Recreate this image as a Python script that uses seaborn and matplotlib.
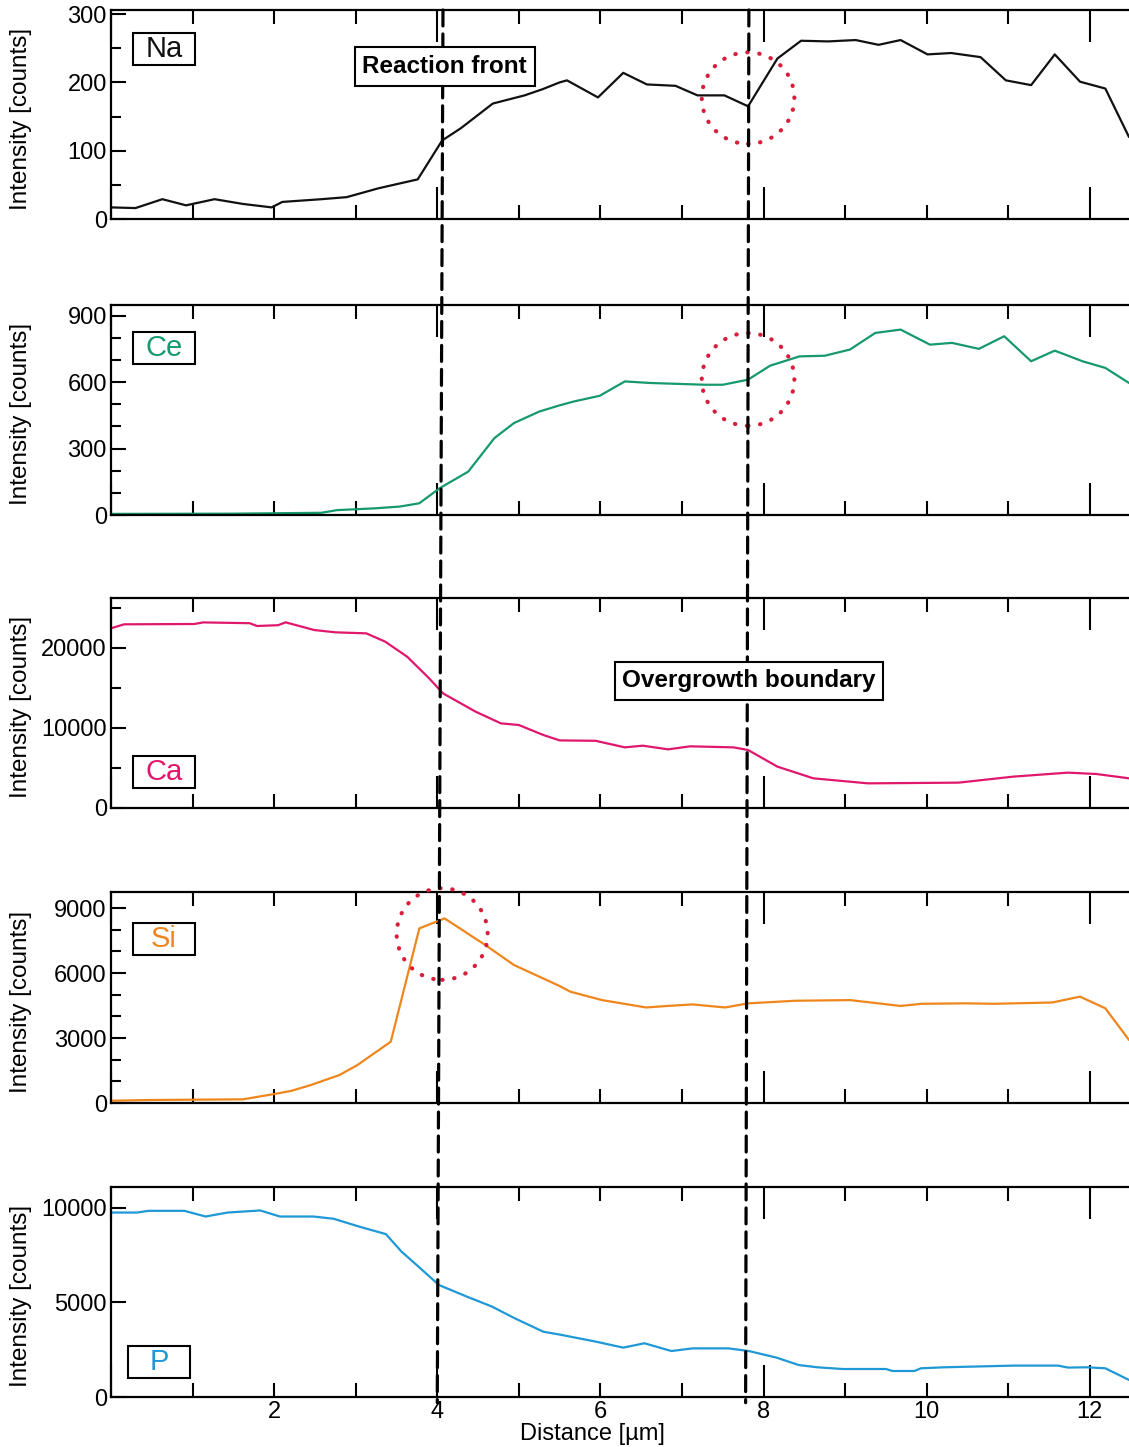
import numpy as np
import pandas as pd
import matplotlib
matplotlib.use("Agg")
import matplotlib.pyplot as plt
import seaborn as sns
from matplotlib.patches import Ellipse, Rectangle, ConnectionPatch
from matplotlib.ticker import FixedLocator, FuncFormatter, NullFormatter

# ---------------- data ----------------
na_x = [0.0, 0.30, 0.63, 0.92, 1.27, 1.62, 1.97, 2.10, 2.58, 2.89, 3.28, 3.76, 4.06, 4.29, 4.68, 5.07,
        5.29, 5.50, 5.59, 5.97, 6.28, 6.57, 6.92, 7.19, 7.52, 7.81, 8.17, 8.46, 8.79, 9.13, 9.41, 9.68,
        10.01, 10.30, 10.66, 10.97, 11.28, 11.57, 11.88, 12.19, 12.48]
na_y = [17, 16, 29, 20, 29, 22, 17, 25, 29, 32, 45, 58, 115, 133, 169, 181,
        190, 200, 203, 178, 214, 197, 195, 181, 181, 165, 235, 261, 260, 262, 255, 262,
        241, 243, 237, 203, 196, 241, 201, 191, 120]

ce_x = [0.0, 1.5, 2.58, 2.77, 3.23, 3.54, 3.78, 4.03, 4.38, 4.70, 4.94, 5.25, 5.50, 5.68, 5.99, 6.30,
        6.61, 7.28, 7.50, 7.81, 8.08, 8.44, 8.75, 9.06, 9.37, 9.68, 10.04, 10.31, 10.64, 10.95, 11.28,
        11.57, 11.91, 12.19, 12.48]
ce_y = [5, 6, 10, 22, 30, 38, 53, 121, 196, 347, 415, 467, 495, 513, 538, 603,
        596, 588, 588, 611, 674, 716, 719, 747, 822, 837, 769, 777, 750, 807, 694,
        742, 694, 664, 596]

ca_x = [0.0, 0.16, 1.02, 1.13, 1.70, 1.79, 2.05, 2.14, 2.49, 2.75, 3.13, 3.36, 3.63, 3.90, 4.07, 4.47,
        4.78, 5.00, 5.30, 5.50, 5.94, 6.30, 6.52, 6.83, 7.10, 7.63, 7.81, 8.17, 8.61, 9.28, 10.39,
        11.06, 11.73, 12.08, 12.48]
ca_y = [22460, 22960, 23000, 23200, 23100, 22750, 22850, 23210, 22250, 21960, 21830, 20800, 18920, 16210, 14330, 12040,
        10580, 10375, 9125, 8450, 8400, 7580, 7790, 7330, 7710, 7580, 7250, 5170, 3710, 3080, 3170,
        3920, 4420, 4250, 3710]

si_x = [0.0, 0.49, 1.62, 2.01, 2.21, 2.45, 2.80, 3.02, 3.43, 3.78, 4.09, 4.59, 4.94, 5.50, 5.63, 6.02,
        6.56, 6.82, 7.13, 7.53, 7.81, 8.39, 9.06, 9.68, 9.94, 10.48, 10.83, 11.54, 11.88, 12.19, 12.48]
si_y = [106, 138, 170, 420, 560, 830, 1290, 1750, 2830, 8060, 8520, 7290, 6370, 5400, 5140, 4750,
        4410, 4480, 4550, 4410, 4600, 4720, 4750, 4480, 4580, 4600, 4580, 4640, 4910, 4370, 2910]

p_x = [0.0, 0.32, 0.46, 0.90, 1.16, 1.43, 1.83, 2.07, 2.48, 2.73, 3.04, 3.37, 3.56, 3.77, 4.02, 4.36,
       4.67, 4.95, 5.30, 5.50, 5.94, 6.28, 6.54, 6.87, 7.13, 7.57, 7.82, 8.16, 8.43, 8.66, 8.97,
       9.50, 9.58, 9.85, 9.93, 10.21, 11.07, 11.61, 11.73, 11.96, 12.19, 12.48]
p_y = [9750, 9750, 9840, 9840, 9540, 9750, 9860, 9540, 9540, 9420, 9010, 8610, 7690, 6890, 5920, 5310,
       4780, 4160, 3450, 3300, 2930, 2610, 2840, 2430, 2570, 2570, 2430, 2080, 1690, 1570, 1480,
       1480, 1375, 1375, 1518, 1570, 1660, 1660, 1555, 1570, 1518, 900]

elements = ["Na", "Ce", "Ca", "Si", "P"]
colors = ["#111111", "#16996c", "#e0176d", "#ef861c", "#1f98d6"]
ylims = [306, 948, 26250, 9740, 11100]
y_major = [[0, 100, 200, 300], [0, 300, 600, 900], [0, 10000, 20000],
           [0, 3000, 6000, 9000], [0, 5000, 10000]]
y_minor = [[50, 150, 250], [100, 200, 400, 500, 700, 800], [5000, 15000, 25000],
           [1000, 2000, 4000, 5000, 7000, 8000], []]

x_major = [0, 4, 8, 12]
x_minor = [1, 2, 3, 5, 6, 7, 9, 10, 11]
x_labeled = [2, 4, 6, 8, 10, 12]

reaction_front_x = (4.07, 4.00)      # top, bottom
overgrowth_x = (7.82, 7.78)

# circles: (panel index, center x, center y, width, height)
circles = [(0, 7.81, 177, 1.135, 134), (1, 7.81, 612, 1.135, 419), (3, 4.06, 7800, 1.116, 4230)]

# ---------------- style ----------------
sns.set_theme(style="ticks")
plt.rcParams["font.family"] = ["Liberation Sans", "DejaVu Sans"]
plt.rcParams["axes.linewidth"] = 1.5
for k in ["text.color", "axes.labelcolor", "xtick.color", "ytick.color", "axes.edgecolor"]:
    plt.rcParams[k] = "black"

W, H = 1129, 1447
fig = plt.figure(figsize=(W / 100, H / 100), dpi=100)

left_px = 111
panel_px = [(10, 219), (305, 515), (598, 808), (892, 1103), (1187, 1397)]
box_cy = [0.813, 0.795, 0.171, 0.777, 0.167]
box_left = [0.0216, 0.0216, 0.0216, 0.0216, 0.0167]

data = [(na_x, na_y), (ce_x, ce_y), (ca_x, ca_y), (si_x, si_y), (p_x, p_y)]
axes = []
for i, (top, bot) in enumerate(panel_px):
    ax = fig.add_axes([left_px / W, 1 - bot / H, (W - left_px) / W, (bot - top) / H])
    axes.append(ax)
    df = pd.DataFrame({"x": data[i][0], "y": data[i][1]})
    sns.lineplot(data=df, x="x", y="y", ax=ax, color=colors[i], lw=1.6,
                 estimator=None, sort=False)
    ax.set_xlim(0, 12.48)
    ax.set_ylim(0, ylims[i])
    ax.spines["right"].set_visible(False)
    for s in ["left", "top", "bottom"]:
        ax.spines[s].set_linewidth(1.6)
        ax.spines[s].set_color("black")
    ax.xaxis.set_major_locator(FixedLocator(x_major))
    ax.xaxis.set_minor_locator(FixedLocator(x_minor))
    ax.yaxis.set_major_locator(FixedLocator(y_major[i]))
    ax.yaxis.set_minor_locator(FixedLocator(y_minor[i]))
    ax.tick_params(axis="x", which="both", direction="in", top=True, bottom=True,
                   width=1.5, color="black", labelcolor="black", labelsize=17, pad=3)
    ax.tick_params(axis="x", which="major", length=23)
    ax.tick_params(axis="x", which="minor", length=10)
    ax.tick_params(axis="y", which="both", direction="in", left=True, right=False,
                   width=1.5, color="black", labelcolor="black", labelsize=17, pad=3)
    ax.tick_params(axis="y", which="major", length=11)
    ax.tick_params(axis="y", which="minor", length=7)
    if i == 4:
        ax.xaxis.set_major_formatter(FuncFormatter(lambda v, p: f"{v:g}" if v in x_labeled else ""))
        ax.xaxis.set_minor_formatter(FuncFormatter(lambda v, p: f"{v:g}" if v in x_labeled else ""))
        ax.set_xlabel("Distance [µm]", fontsize=17, color="black")
        ax.xaxis.set_label_coords(0.4725, -0.125)
    else:
        ax.xaxis.set_major_formatter(NullFormatter())
        ax.xaxis.set_minor_formatter(NullFormatter())
        ax.set_xlabel("")
    ax.set_ylabel("Intensity [counts]", fontsize=17.5, color="black")
    ax.yaxis.set_label_coords(-0.078, 0.48)

    # element label box
    bw, bh = 62 / 1018, 32 / (bot - top)
    ax.add_patch(Rectangle((box_left[i], box_cy[i] - bh / 2), bw, bh, transform=ax.transAxes,
                           fc="white", ec="black", lw=1.5, zorder=4))
    ax.text(box_left[i] + bw / 2, box_cy[i], elements[i], transform=ax.transAxes,
            ha="center", va="center", fontsize=21, color=colors[i], zorder=5)

# red dotted circles
for (pi, cx, cy, w, h) in circles:
    e = Ellipse((cx, cy), w, h, fill=False, ec="#d71f3b", lw=3.0,
                linestyle=(0, (0.1, 2.8)), clip_on=False, zorder=6)
    e.set_capstyle("round")
    axes[pi].add_patch(e)

# dashed boundary lines spanning all panels
for (xt, xb) in [reaction_front_x, overgrowth_x]:
    cp = ConnectionPatch(xyA=(xt, ylims[0]), coordsA=axes[0].transData,
                         xyB=(xb, -300), coordsB=axes[4].transData,
                         color="black", lw=2.3, linestyle=(0, (5, 2.5)), zorder=5)
    fig.add_artist(cp)

# annotation boxes above the dashed lines
fig.text(4.09, 223, "Reaction front", transform=axes[0].transData, ha="center", va="center",
         fontsize=17.5, fontweight="bold", color="black", zorder=10,
         bbox=dict(boxstyle="square,pad=0.32", fc="white", ec="black", lw=1.5))
fig.text(7.82, 15875, "Overgrowth boundary", transform=axes[2].transData, ha="center", va="center",
         fontsize=17.5, fontweight="bold", color="black", zorder=10,
         bbox=dict(boxstyle="square,pad=0.3", fc="white", ec="black", lw=1.5))

fig.savefig("out.png", dpi=100)
